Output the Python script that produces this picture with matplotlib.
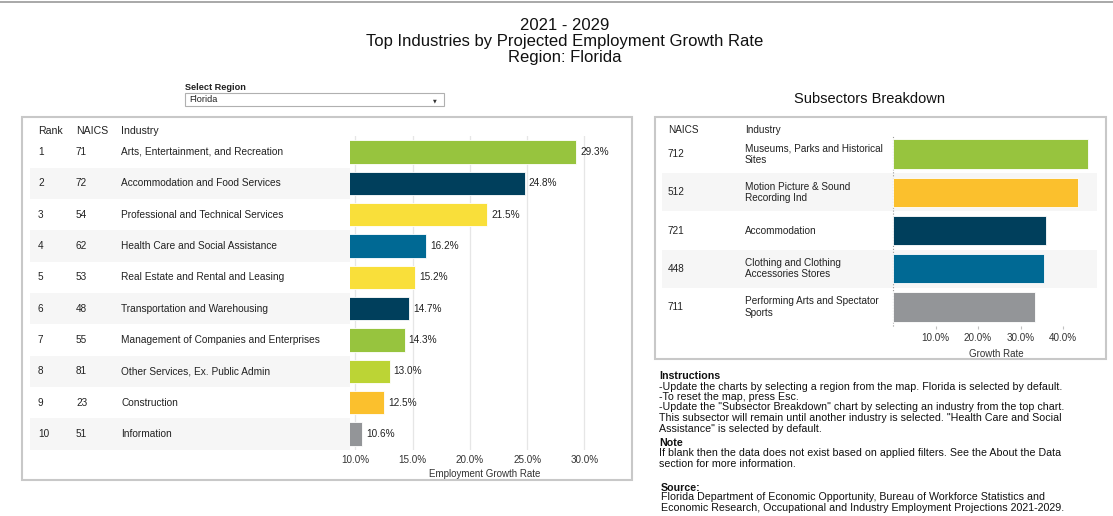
import matplotlib
matplotlib.use("Agg")
import matplotlib.pyplot as plt
import matplotlib.patches as patches
import numpy as np

plt.rcParams["font.family"] = ["Liberation Sans", "DejaVu Sans"]

# Top industries (left chart)
ranks = [1, 2, 3, 4, 5, 6, 7, 8, 9, 10]
naics = ["71", "72", "54", "62", "53", "48", "55", "81", "23", "51"]
industries = [
    "Arts, Entertainment, and Recreation",
    "Accommodation and Food Services",
    "Professional and Technical Services",
    "Health Care and Social Assistance",
    "Real Estate and Rental and Leasing",
    "Transportation and Warehousing",
    "Management of Companies and Enterprises",
    "Other Services, Ex. Public Admin",
    "Construction",
    "Information",
]
growth = [29.3, 24.8, 21.5, 16.2, 15.2, 14.7, 14.3, 13.0, 12.5, 10.6]
bar_colors = ["#97c43e", "#003f5c", "#f9df3a", "#006994", "#f9df3a",
              "#003f5c", "#97c43e", "#bcd435", "#fbc02d", "#939598"]
left_ticks = [10, 15, 20, 25, 30]

# Subsectors breakdown (right chart)
sub_naics = ["712", "512", "721", "448", "711"]
sub_industries = [
    "Museums, Parks and Historical\nSites",
    "Motion Picture & Sound\nRecording Ind",
    "Accommodation",
    "Clothing and Clothing\nAccessories Stores",
    "Performing Arts and Spectator\nSports",
]
sub_growth = [45.8, 43.5, 36.1, 35.6, 33.3]
sub_colors = ["#97c43e", "#fbc02d", "#003f5c", "#006994", "#939598"]
right_ticks = [10, 20, 30, 40]

W, H = 1113, 516
fig = plt.figure(figsize=(W / 100, H / 100), dpi=100)
fig.patch.set_facecolor("white")


def axes_px(x0, y0, x1, y1, **kw):
    # add axes using pixel coordinates measured from the top-left corner
    return fig.add_axes([x0 / W, 1 - y1 / H, (x1 - x0) / W, (y1 - y0) / H], **kw)


def fig_text(px, py, s, **kw):
    fig.text(px / W, 1 - py / H, s, **kw)


def box_px(x0, y0, x1, y1, **kw):
    rect = patches.Rectangle((x0 / W, 1 - y1 / H), (x1 - x0) / W, (y1 - y0) / H,
                             transform=fig.transFigure, fill=False, **kw)
    fig.patches.append(rect)


txt = "#222222"

# thin line along top
fig.add_artist(plt.Line2D([0, 1], [1 - 1.5 / H, 1 - 1.5 / H], color="#9a9a9a", lw=1.2))

# Title
for py, line in zip([25, 41.5, 57.5], ["2021 - 2029",
                                        "Top Industries by Projected Employment Growth Rate",
                                        "Region: Florida"]):
    fig_text(565, py, line, fontsize=12, ha="center", va="center", color="#111111")

# Select region dropdown
fig_text(185, 87, "Select Region", fontsize=6.6, fontweight="bold", ha="left", va="center", color=txt)
box_px(185, 93, 444, 106, edgecolor="#b0b0b0", lw=0.8)
fig_text(189, 100, "Florida", fontsize=6.6, ha="left", va="center", color=txt)
fig_text(435, 100.5, "\u25bc", fontsize=3.5, ha="center", va="center", color="#333333",
         family="DejaVu Sans")

fig_text(869, 99, "Subsectors Breakdown", fontsize=10.5, ha="center", va="center", color="#111111")

# ---------------- Left panel ----------------
box_px(22, 117, 632, 480, edgecolor="#c8c8c8", lw=1.5)

top, bottom = 152 - 15.67, 434 + 15.67
ax_tab = axes_px(30, top, 350, bottom)
ax_tab.set_xlim(0, 1)
ax_tab.set_ylim(9.5, -0.5)
ax_tab.axis("off")
for i in range(len(ranks)):
    if i % 2 == 1:
        ax_tab.axhspan(i - 0.5, i + 0.5, color="#f6f6f6", lw=0)
    ax_tab.text(8 / 320, i, str(ranks[i]), fontsize=7.2, va="center", color=txt)
    ax_tab.text(46 / 320, i, naics[i], fontsize=7.2, va="center", color=txt)
    ax_tab.text(91 / 320, i, industries[i], fontsize=7.3, va="center", color=txt)
for cx, head in zip([8, 46, 91], ["Rank", "NAICS", "Industry"]):
    ax_tab.text(cx / 320, -0.67, head, fontsize=7.6, va="center", color=txt, clip_on=False)

ax_bar = axes_px(350, top, 620, bottom)
ax_bar.barh(np.arange(len(growth)), growth, height=0.75, color=bar_colors,
            edgecolor="white", lw=0.6, zorder=3)
ax_bar.set_xlim(9.54, 33.1)
ax_bar.set_ylim(9.5, -0.5)
ax_bar.set_xticks(left_ticks)
ax_bar.set_xticklabels([f"{t:.1f}%" for t in left_ticks], fontsize=7.1, color="#333333")
ax_bar.set_yticks([])
ax_bar.grid(axis="x", color="#e6e6e6", lw=0.9, zorder=0)
ax_bar.tick_params(axis="x", length=0, pad=4)
for s in ax_bar.spines.values():
    s.set_visible(False)
ax_bar.set_xlabel("Employment Growth Rate", fontsize=7, color="#333333", labelpad=3)
for i, v in enumerate(growth):
    ax_bar.text(v + 0.35, i, f"{v:.1f}%", fontsize=7.2, va="center", color=txt, zorder=4)

# ---------------- Right panel ----------------
box_px(655, 117, 1106, 359, edgecolor="#c8c8c8", lw=1.5)

rtop, rbottom = 154 - 19.1, 307 + 19.1
ax_rtab = axes_px(662, rtop, 1097, rbottom)
ax_rtab.set_xlim(0, 1)
ax_rtab.set_ylim(4.5, -0.5)
ax_rtab.axis("off")
for i in range(len(sub_naics)):
    if i % 2 == 1:
        ax_rtab.axhspan(i - 0.5, i + 0.5, color="#f6f6f6", lw=0)
    ax_rtab.text(6 / 435, i, sub_naics[i], fontsize=7.2, va="center", color=txt)
    ax_rtab.text(83 / 435, i, sub_industries[i], fontsize=7.2, va="center", color=txt,
                 linespacing=1.15)
for cx, head in zip([6, 83], ["NAICS", "Industry"]):
    ax_rtab.text(cx / 435, -0.63, head, fontsize=7.2, va="center", color=txt, clip_on=False)

ax_rbar = axes_px(893, rtop, 1100, rbottom)
ax_rbar.patch.set_visible(False)
ax_rbar.barh(np.arange(len(sub_growth)), sub_growth, height=0.76, color=sub_colors,
             edgecolor="white", lw=0.6, zorder=3)
ax_rbar.set_xlim(0, 48.7)
ax_rbar.set_ylim(4.5, -0.5)
ax_rbar.set_xticks(right_ticks)
ax_rbar.set_xticklabels([f"{t:.1f}%" for t in right_ticks], fontsize=7.1, color="#333333")
ax_rbar.set_yticks([])
ax_rbar.tick_params(axis="x", length=2, color="#c0c0c0", pad=3)
for s in ax_rbar.spines.values():
    s.set_visible(False)
ax_rbar.axvline(0, ls=":", color="#9a9a9a", lw=0.8, clip_on=False, zorder=2)
ax_rbar.set_xlabel("Growth Rate", fontsize=7, color="#333333", labelpad=4)

# ---------------- Notes ----------------
notes = [
    (376, "Instructions", True),
    (386.5, "-Update the charts by selecting a region from the map. Florida is selected by default.", False),
    (397, "-To reset the map, press Esc.", False),
    (407.5, "-Update the \"Subsector Breakdown\" chart by selecting an industry from the top chart.", False),
    (418, "This subsector will remain until another industry is selected. \"Health Care and Social", False),
    (428.5, "Assistance\" is selected by default.", False),
    (443, "Note", True),
    (453.5, "If blank then the data does not exist based on applied filters. See the About the Data", False),
    (464, "section for more information.", False),
    (488, "Source:", True),
    (497.5, "Florida Department of Economic Opportunity, Bureau of Workforce Statistics and", False),
    (508, "Economic Research, Occupational and Industry Employment Projections 2021-2029.", False),
]
for py, line, bold in notes:
    px = 661 if line in ("Source:",) or line.startswith(("Florida", "Economic")) else 659
    fig_text(px, py, line, fontsize=7.7, fontweight="bold" if bold else "normal",
             ha="left", va="center", color="#111111")

fig.savefig("out.png", dpi=100)
